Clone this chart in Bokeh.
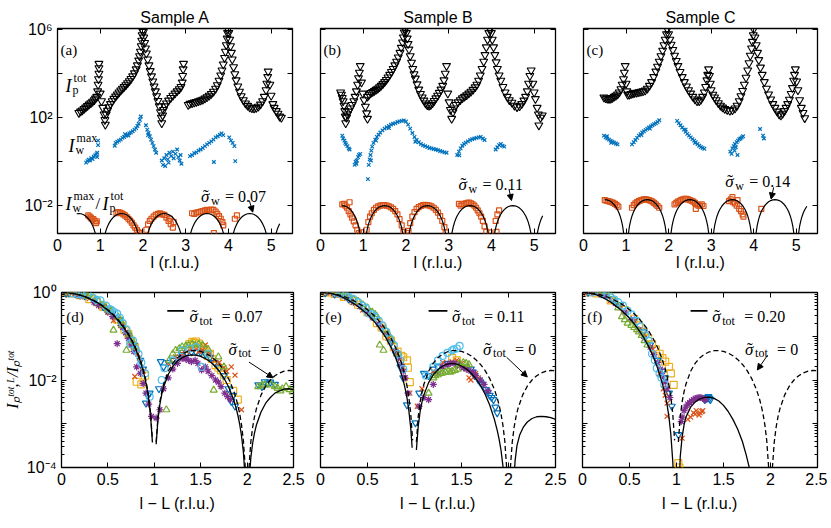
import math
from bokeh.plotting import figure
from bokeh.layouts import column, row
from bokeh.models import (Range1d, FixedTicker, CustomJSTickFormatter, LinearAxis,
                          LogAxis, Label, Arrow, NormalHead)
from bokeh.embed import file_html
from bokeh.resources import INLINE

SANS = "Liberation Sans"
SERIF = "Liberation Serif"

# ---------------- data ----------------
samples = ["Sample A", "Sample B", "Sample C"]
top_tags = ["(a)", "(b)", "(c)"]
bot_tags = ["(d)", "(e)", "(f)"]
sigma_w = ["0.07", "0.11", "0.14"]
sigma_tot = ["0.07", "0.11", "0.20"]
top_xlabel = "l (r.l.u.)"
bot_xlabel = "l \u2212 L (r.l.u.)"
bot_ylabel = "I\u209a\u1d57\u1d52\u1d57,\u1d38/I\u209a\u1d57\u1d52\u1d57"

top_xticks = [0, 1, 2, 3, 4, 5]
top_yticks = [1e-2, 1e0, 1e2, 1e4, 1e6]
top_ylabel_exps = [-2, 2, 6]
bot_xticks = [0, 0.5, 1, 1.5, 2, 2.5]
bot_yticks = [1e-4, 1e-3, 1e-2, 1e-1, 1e0]
bot_ylabel_exps = [-4, -2, 0]
bot_yminor = [m * 10.0 ** e for e in range(-4, 0) for m in range(2, 10)]

# (l, log10 I) for the I_p^tot series
a_ptot = [(0.50,2.22),(0.54,2.28),(0.58,2.33),(0.62,2.40),(0.66,2.46),(0.70,2.53),(0.74,2.60),(0.78,2.66),(0.82,2.73),(0.86,2.80),(0.89,2.87),(0.92,2.95),(0.94,3.20),(0.95,3.50),(0.96,3.75),(0.97,4.00),(0.97,4.25),(0.97,4.45),
          (1.00,3.10),(1.03,2.75),(1.06,2.45),(1.09,2.15),(1.11,1.90),(1.12,1.68),
          (1.14,2.15),(1.17,2.32),(1.20,2.48),(1.24,2.62),(1.28,2.75),(1.32,2.86),(1.36,2.96),(1.40,3.06),(1.44,3.15),(1.48,3.24),(1.52,3.32),(1.56,3.40),(1.60,3.48),(1.64,3.57),(1.68,3.66),(1.72,3.76),(1.76,3.88),(1.80,4.02),(1.84,4.20),(1.87,4.38),(1.90,4.60),(1.92,4.80),(1.94,5.00),(1.96,5.25),(1.97,5.50),(1.98,5.75),(1.99,5.95),
          (2.01,5.90),(2.02,5.65),(2.04,5.40),(2.06,5.15),(2.08,4.92),(2.11,4.65),(2.14,4.38),(2.17,4.12),(2.20,3.88),(2.23,3.65),(2.26,3.42),(2.29,3.20),(2.32,2.98),(2.35,2.76),(2.38,2.52),(2.41,2.25),(2.43,2.00),(2.44,1.75),
          (2.46,2.10),(2.48,2.35),(2.51,2.52),(2.55,2.65),(2.60,2.78),(2.65,2.90),(2.70,3.00),(2.75,3.10),(2.80,3.20),(2.85,3.30),(2.89,3.40),(2.92,3.60),(2.93,3.90),(2.94,4.20),(2.95,4.45),
          (3.06,2.58),(3.10,2.63),(3.15,2.66),(3.20,2.69),(3.25,2.72),(3.30,2.75),(3.35,2.78),(3.40,2.82),(3.45,2.87),(3.50,2.93),(3.55,3.00),(3.60,3.08),(3.65,3.18),(3.70,3.32),(3.74,3.48),(3.78,3.68),(3.82,3.92),(3.85,4.15),(3.88,4.42),(3.91,4.72),(3.93,5.00),(3.95,5.30),(3.97,5.60),(3.98,5.85),(3.99,6.02),
          (4.01,5.85),(4.03,5.55),(4.05,5.25),(4.07,4.95),(4.09,4.65),(4.12,4.30),(4.15,3.98),(4.18,3.70),(4.22,3.42),(4.26,3.18),(4.30,2.98),(4.35,2.80),(4.40,2.65),(4.45,2.54),(4.50,2.47),(4.55,2.43),(4.60,2.42),(4.65,2.44),(4.70,2.50),(4.75,2.60),(4.80,2.75),(4.84,2.95),(4.88,3.25),(4.90,3.55),(4.92,3.85),(4.93,4.10),
          (4.97,3.50),(5.00,3.00),(5.04,2.62),(5.07,2.45),(5.12,2.30),(5.16,2.18),(5.20,2.05),(5.24,2.00)]
b_ptot = [(0.47,3.15),(0.49,3.05),(0.51,2.90),(0.53,2.75),(0.55,2.55),(0.57,2.30),(0.58,2.05),(0.59,1.75),(0.61,2.00),(0.63,2.15),(0.66,2.28),(0.70,2.42),(0.74,2.58),(0.78,2.75),(0.81,2.95),(0.84,3.20),(0.87,3.50),(0.89,3.80),(0.91,4.05),(0.93,4.35),(0.96,3.60),(0.99,3.10),(1.02,2.80),(1.05,2.50),(1.08,2.20),(1.10,1.95),
          (1.10,2.95),(1.14,3.05),(1.18,3.12),(1.22,3.17),(1.26,3.22),(1.30,3.27),(1.34,3.32),(1.38,3.38),(1.42,3.45),(1.46,3.53),(1.50,3.62),(1.54,3.72),(1.58,3.83),(1.62,3.95),(1.66,4.08),(1.70,4.22),(1.74,4.38),(1.78,4.55),(1.82,4.74),(1.86,4.95),(1.89,5.18),(1.92,5.42),(1.94,5.65),(1.96,5.88),(1.98,6.02),
          (2.01,5.85),(2.03,5.60),(2.05,5.35),(2.07,5.10),(2.10,4.80),(2.13,4.50),(2.16,4.22),(2.19,3.98),(2.22,3.78),(2.26,3.52),(2.30,3.28),(2.34,3.08),(2.38,2.92),(2.42,2.78),(2.46,2.65),(2.50,2.57),(2.54,2.55),(2.58,2.58),(2.62,2.66),(2.66,2.76),(2.70,2.88),(2.74,3.00),(2.78,3.13),(2.82,3.28),(2.86,3.45),(2.89,3.70),(2.92,4.00),(2.95,4.35),
          (2.98,3.10),(3.01,2.70),(3.04,2.35),(3.07,1.95),
          (3.10,2.25),(3.13,2.42),(3.17,2.58),(3.22,2.70),(3.27,2.80),(3.32,2.88),(3.37,2.95),(3.42,3.02),(3.47,3.10),(3.52,3.18),(3.57,3.27),(3.62,3.38),(3.66,3.50),(3.70,3.68),(3.74,3.92),(3.78,4.22),(3.82,4.55),(3.85,4.85),(3.88,5.20),(3.91,5.55),(3.94,5.85),(3.97,6.02),
          (4.00,5.85),(4.02,5.55),(4.05,5.20),(4.08,4.85),(4.11,4.52),(4.14,4.22),(4.18,3.92),(4.22,3.68),(4.27,3.40),(4.32,3.15),(4.37,2.95),(4.42,2.80),(4.48,2.68),(4.54,2.55),(4.60,2.48),(4.66,2.52),(4.71,2.62),(4.76,2.78),(4.80,2.95),(4.84,3.20),(4.87,3.55),(4.90,3.90),(4.93,4.15),
          (4.97,3.55),(5.00,3.15),(5.03,2.85),(5.07,2.45),(5.10,2.15),(5.11,1.65),(5.15,2.00),(5.19,2.10)]
c_ptot = [(0.48,2.92),(0.52,2.88),(0.56,2.86),(0.60,2.85),(0.64,2.86),(0.68,2.90),(0.72,2.95),(0.76,3.00),(0.80,3.06),(0.84,3.15),(0.88,3.30),(0.91,3.50),(0.94,3.75),(0.96,4.05),(0.98,4.35),(1.00,3.55),(1.02,3.20),(1.04,3.05),
          (1.08,3.05),(1.12,3.08),(1.16,3.10),(1.20,3.12),(1.25,3.14),(1.30,3.16),(1.35,3.18),(1.40,3.20),(1.45,3.24),(1.50,3.32),(1.55,3.45),(1.60,3.62),(1.65,3.85),(1.70,4.10),(1.74,4.32),(1.78,4.55),(1.82,4.80),(1.86,5.05),(1.89,5.30),(1.92,5.55),(1.95,5.80),(1.97,6.02),
          (2.00,5.80),(2.03,5.55),(2.06,5.32),(2.10,5.08),(2.14,4.82),(2.18,4.58),(2.22,4.35),(2.27,4.08),(2.32,3.85),(2.37,3.62),(2.42,3.42),(2.47,3.25),(2.52,3.10),(2.57,2.95),(2.62,2.83),(2.67,2.75),(2.72,2.75),(2.76,2.82),(2.80,2.95),(2.84,3.15),(2.87,3.40),(2.90,3.70),(2.92,3.95),(2.94,4.20),(2.96,3.90),(2.98,3.55),(3.00,3.25),
          (3.04,3.05),(3.08,2.92),(3.12,2.80),(3.17,2.66),(3.22,2.55),(3.27,2.46),(3.32,2.40),(3.38,2.35),(3.44,2.32),(3.50,2.34),(3.56,2.42),(3.61,2.55),(3.66,2.75),(3.70,2.98),(3.74,3.22),(3.78,3.50),(3.82,3.82),(3.86,4.15),(3.89,4.48),(3.92,4.82),(3.95,5.15),(3.97,5.45),(3.99,5.75),(4.00,6.02),
          (4.03,5.65),(4.06,5.30),(4.09,4.95),(4.12,4.62),(4.16,4.28),(4.20,3.95),(4.25,3.62),(4.30,3.32),(4.35,3.06),(4.40,2.83),(4.45,2.62),(4.50,2.45),(4.55,2.28),(4.60,2.15),(4.64,2.10),(4.68,2.18),(4.72,2.30),(4.76,2.45),(4.80,2.62),(4.84,2.82),(4.88,3.08),(4.91,3.35),(4.94,3.68),(4.96,3.95),(4.98,4.20),
          (5.01,3.65),(5.04,3.25),(5.08,2.80),(5.12,2.45),(5.16,2.22),(5.20,1.98)]

# (l, log10 I) for the I_w^max series
a_wmax = [(0.67,-0.05),(0.70,0.02),(0.73,0.08),(0.76,0.05),(0.79,0.15),(0.82,0.12),(0.85,0.22),(0.88,0.28),(0.91,0.33),(0.93,0.40),(0.95,0.95),(0.95,0.75),(0.93,0.20),
          (1.34,0.72),(1.36,0.85),(1.40,0.90),(1.44,0.95),(1.48,1.00),(1.52,1.08),(1.56,1.12),(1.60,1.18),(1.64,1.22),(1.68,1.28),(1.72,1.32),(1.76,1.38),(1.80,1.45),(1.84,1.52),(1.87,1.62),(1.90,1.72),(1.93,1.90),(1.95,2.05),(1.58,1.25),(1.66,1.18),
          (2.07,1.65),(2.10,1.45),(2.13,1.30),(2.16,1.15),(2.19,1.00),(2.22,0.85),(2.25,0.70),(2.28,0.55),(2.31,0.40),(2.12,1.20),
          (2.44,0.05),(2.47,-0.15),(2.50,0.15),(2.55,0.30),(2.58,0.10),(2.62,0.40),(2.66,0.25),(2.70,0.45),(2.72,0.15),(2.76,0.35),(2.80,0.55),(2.83,0.20),(2.86,0.05),(2.88,0.30),(2.90,-0.10),(2.60,-0.05),(2.52,-0.20),
          (3.10,0.25),(3.15,0.30),(3.20,0.38),(3.25,0.42),(3.30,0.50),(3.35,0.55),(3.40,0.62),(3.45,0.70),(3.50,0.78),(3.55,0.85),(3.60,0.92),(3.65,1.00),(3.70,1.10),(3.75,1.15),(3.80,1.22),(3.84,1.28),(3.88,1.20),(3.66,-0.02),
          (4.02,1.10),(4.06,0.95),(4.10,0.85),(4.14,0.70),(4.16,0.02)]
b_wmax = [(0.51,1.18),(0.53,1.05),(0.56,0.95),(0.58,0.85),(0.60,0.78),(0.63,0.70),(0.66,0.60),(0.68,0.55),
          (0.80,-0.15),(0.82,0.00),(0.85,0.05),(0.88,0.20),(0.90,0.30),(0.93,0.35),(0.84,-0.10),
          (1.11,-0.80),(1.13,-0.15),(1.15,0.10),(1.17,0.30),(1.19,0.50),(1.21,0.68),(1.24,0.85),(1.28,1.00),(1.32,1.12),(1.36,1.22),(1.40,1.32),(1.45,1.42),(1.50,1.50),(1.55,1.56),(1.60,1.62),(1.65,1.68),(1.70,1.72),(1.75,1.75),(1.80,1.80),(1.85,1.83),(1.90,1.85),(1.95,1.87),
          (2.00,1.82),(2.05,1.68),(2.10,1.50),(2.15,1.30),(2.20,1.12),(2.25,0.98),(2.30,0.88),(2.35,0.80),(2.40,0.74),(2.45,0.70),(2.50,0.66),(2.55,0.62),(2.60,0.60),(2.65,0.57),(2.70,0.55),(2.75,0.52),(2.80,0.48),(2.85,0.45),(2.90,0.42),(2.95,0.40),
          (1.18,0.05),(1.30,0.95),(1.60,1.52),(2.22,0.90),
          (3.20,0.30),(3.24,0.45),(3.28,0.60),(3.32,0.72),(3.36,0.80),(3.40,0.86),(3.45,0.92),(3.50,0.98),(3.55,1.02),(3.60,1.05),(3.65,1.08),(3.70,1.10),(3.75,1.12),(3.80,1.05),(3.84,0.98),(3.25,0.28),
          (4.10,0.55),(4.14,0.65),(4.18,0.75),(4.22,0.80),(4.26,0.72),(4.30,0.68)]
c_wmax = [(0.48,1.18),(0.52,1.10),(0.56,1.05),(0.60,1.00),(0.64,0.95),(0.68,0.90),(0.72,0.86),(0.76,0.82),(0.80,0.78),(0.55,1.15),(0.65,0.85),
          (1.14,0.78),(1.18,0.88),(1.22,0.98),(1.26,1.08),(1.30,1.18),(1.34,1.25),(1.38,1.32),(1.42,1.38),(1.46,1.44),(1.50,1.50),(1.54,1.55),(1.58,1.60),(1.62,1.65),(1.66,1.70),(1.70,1.74),(1.74,1.80),(1.78,1.88),(1.36,1.20),(1.56,1.50),
          (2.20,1.85),(2.24,1.75),(2.28,1.65),(2.32,1.55),(2.36,1.45),(2.40,1.35),(2.44,1.26),(2.48,1.18),(2.52,1.10),(2.56,1.02),(2.60,0.95),(2.64,0.88),(2.68,0.80),(2.72,0.72),(2.76,0.66),(2.80,0.62),(2.84,0.58),(2.40,1.45),(2.62,0.85),
          (3.45,0.45),(3.48,0.35),(3.50,0.60),(3.53,0.70),(3.56,0.80),(3.58,0.65),(3.60,0.88),(3.63,0.95),(3.66,1.02),(3.69,1.05),(3.72,1.10),(3.75,1.15),(3.62,0.30),(3.55,0.50),
          (4.15,1.48),(4.22,1.18),(4.24,1.05)]

# (l, log10 ratio) for I_w^max / I_p^tot
a_ratio = [(0.72,-2.45),(0.75,-2.50),(0.78,-2.55),(0.80,-2.60),(0.84,-2.62),(0.87,-2.70),(0.90,-2.80),(0.92,-2.72),
           (1.38,-2.35),(1.42,-2.30),(1.46,-2.32),(1.50,-2.35),(1.54,-2.40),(1.58,-2.45),(1.62,-2.52),(1.66,-2.60),(1.70,-2.68),(1.74,-2.78),(1.78,-2.90),(1.82,-3.00),(1.86,-3.12),(1.90,-3.22),(1.93,-3.25),
           (2.08,-3.10),(2.12,-2.85),(2.16,-2.70),(2.20,-2.60),(2.25,-2.50),(2.30,-2.42),(2.35,-2.38),(2.40,-2.35),(2.45,-2.40),(2.50,-2.42),(2.55,-2.55),(2.60,-2.70),(2.65,-2.85),(2.70,-3.00),(2.63,-2.60),(2.72,-2.75),
           (3.15,-2.35),(3.20,-2.38),(3.25,-2.32),(3.30,-2.30),(3.35,-2.28),(3.40,-2.25),(3.45,-2.22),(3.50,-2.20),(3.55,-2.22),(3.60,-2.18),(3.65,-2.20),(3.70,-2.28),(3.74,-2.38),(3.78,-2.48),(3.82,-2.60),(3.86,-2.75),(3.88,-2.90),(3.66,-3.25),
           (4.15,-2.60),(4.20,-2.45)]
b_ratio = [(0.51,-1.95),(0.55,-1.92),(0.58,-2.00),(0.62,-2.10),(0.66,-2.25),(0.70,-2.40),(0.74,-2.55),(0.78,-2.72),(0.82,-2.90),(0.86,-3.10),(0.90,-3.25),(0.68,-1.85),(0.95,-3.22),
           (1.08,-3.10),(1.12,-2.75),(1.16,-2.50),(1.20,-2.35),(1.25,-2.20),(1.30,-2.10),(1.35,-2.04),(1.40,-2.00),(1.45,-1.98),(1.50,-1.98),(1.55,-2.00),(1.60,-2.03),(1.65,-2.08),(1.70,-2.15),(1.75,-2.25),(1.80,-2.40),(1.85,-2.62),(1.90,-2.90),(1.94,-3.20),
           (2.02,-3.24),(2.06,-3.15),(2.10,-2.80),(2.15,-2.50),(2.20,-2.30),(2.25,-2.15),(2.30,-2.07),(2.35,-2.02),(2.40,-1.98),(2.45,-1.97),(2.50,-1.98),(2.55,-2.00),(2.60,-2.04),(2.65,-2.10),(2.70,-2.20),(2.75,-2.32),(2.80,-2.48),(2.85,-2.70),(2.90,-2.98),(2.93,-3.22),
           (3.24,-1.92),(3.28,-2.00),(3.32,-1.95),(3.36,-1.92),(3.40,-1.90),(3.44,-1.88),(3.48,-1.86),(3.52,-1.90),(3.56,-1.94),(3.60,-2.00),(3.64,-2.10),(3.68,-2.22),(3.72,-2.35),(3.76,-2.50),(3.80,-2.70),(3.84,-2.95),(3.88,-3.20),(3.96,-3.22),
           (4.10,-2.70),(4.12,-3.20),(4.14,-2.40),(4.18,-2.22)]
c_ratio = [(0.50,-1.75),(0.54,-1.78),(0.58,-1.80),(0.62,-1.82),(0.66,-1.85),(0.70,-1.88),(0.74,-1.92),(0.78,-1.98),(0.82,-2.05),
           (1.14,-2.10),(1.18,-1.98),(1.22,-1.90),(1.26,-1.84),(1.30,-1.80),(1.34,-1.76),(1.38,-1.74),(1.42,-1.72),(1.46,-1.72),(1.50,-1.73),(1.54,-1.75),(1.58,-1.78),(1.62,-1.82),(1.66,-1.88),(1.70,-1.95),(1.74,-2.02),(1.78,-2.10),
           (2.14,-1.95),(2.18,-1.88),(2.22,-1.82),(2.26,-1.78),(2.30,-1.74),(2.34,-1.72),(2.38,-1.70),(2.42,-1.70),(2.46,-1.72),(2.50,-1.75),(2.54,-1.78),(2.58,-1.82),(2.62,-1.88),(2.66,-1.95),(2.70,-2.00),(2.74,-2.00),(2.78,-1.95),(2.82,-2.02),(2.64,-2.15),
           (3.42,-1.80),(3.46,-1.72),(3.50,-1.62),(3.52,-1.85),(3.56,-1.90),(3.60,-2.00),(3.62,-1.75),(3.66,-2.15),(3.70,-2.25),(3.74,-2.40),(3.76,-2.50),
           (4.18,-2.15)]

# model arches of the top panels: offset from arch centre, log10 drop from the peak
arch_offset = [-0.48,-0.45,-0.42,-0.39,-0.36,-0.33,-0.30,-0.25,-0.20,-0.15,-0.10,-0.05,0.0,0.05,0.10,0.15,0.20,0.25,0.30,0.33,0.36,0.39,0.42,0.45,0.48]
arch_drop = [-2.404,-1.611,-1.209,-0.940,-0.742,-0.587,-0.462,-0.301,-0.184,-0.100,-0.044,-0.011,0.0,-0.011,-0.044,-0.100,-0.184,-0.301,-0.462,-0.587,-0.742,-0.940,-1.209,-1.611,-2.404]
arch_centers = [0.5, 1.5, 2.5, 3.5, 4.5, 5.5]
arch_peak = [-2.36, -2.00, -1.73]
arch_span = [(0.44, 5.21), (0.49, 5.21), (0.46, 5.25)]

# bottom panels: (l-L, log10 ratio); None breaks the line
dashed_sigma0 = [(0.00,0.000),(0.05,-0.004),(0.10,-0.014),(0.15,-0.032),(0.20,-0.058),(0.25,-0.091),(0.30,-0.133),(0.35,-0.183),(0.40,-0.242),(0.45,-0.312),(0.50,-0.393),(0.55,-0.486),(0.60,-0.594),(0.65,-0.720),(0.70,-0.869),(0.75,-1.046),(0.80,-1.262),(0.85,-1.539),(0.88,-1.751),(0.90,-1.923),(0.92,-2.131),(0.94,-2.395),(0.96,-2.763),(0.98,-3.381),None,
                 (1.02,-3.416),(1.04,-2.832),(1.06,-2.499),(1.08,-2.270),(1.10,-2.097),(1.15,-1.801),(1.20,-1.614),(1.25,-1.489),(1.30,-1.407),(1.35,-1.355),(1.40,-1.330),(1.45,-1.328),(1.50,-1.347),(1.55,-1.386),(1.60,-1.446),(1.65,-1.529),(1.70,-1.639),(1.75,-1.781),(1.80,-1.967),(1.85,-2.215),(1.88,-2.411),(1.90,-2.572),(1.92,-2.770),(1.94,-3.024),(1.96,-3.383),(1.98,-3.990),None,
                 (2.02,-4.010),(2.04,-3.418),(2.06,-3.076),(2.08,-2.839),(2.10,-2.659),(2.15,-2.345),(2.20,-2.141),(2.25,-2.000),(2.30,-1.902),(2.35,-1.837),(2.40,-1.798),(2.45,-1.783),(2.50,-1.790)]
d_solid = [(0.00,0.000),(0.05,-0.004),(0.10,-0.015),(0.15,-0.034),(0.20,-0.061),(0.25,-0.096),(0.30,-0.140),(0.35,-0.190),(0.40,-0.250),(0.45,-0.325),(0.50,-0.410),(0.55,-0.505),(0.60,-0.615),(0.65,-0.745),(0.70,-0.895),(0.75,-1.075),(0.80,-1.295),(0.85,-1.575),(0.88,-1.790),(0.90,-1.965),(0.92,-2.175),(0.94,-2.445),(0.96,-2.830),(0.98,-3.430),None,
           (1.02,-3.470),(1.04,-2.890),(1.06,-2.555),(1.08,-2.330),(1.10,-2.160),(1.15,-1.875),(1.20,-1.685),(1.25,-1.565),(1.30,-1.490),(1.35,-1.445),(1.40,-1.425),(1.45,-1.430),(1.50,-1.460),(1.55,-1.510),(1.60,-1.580),(1.65,-1.675),(1.70,-1.800),(1.75,-1.955),(1.80,-2.155),(1.85,-2.420),(1.88,-2.630),(1.90,-2.800),(1.92,-3.010),(1.94,-3.280),(1.96,-3.650),(1.98,-4.270),None,
           (2.02,-4.350),(2.04,-3.780),(2.06,-3.440),(2.08,-3.210),(2.10,-3.030),(2.15,-2.730),(2.20,-2.530),(2.25,-2.400),(2.30,-2.300),(2.35,-2.250),(2.40,-2.210),(2.45,-2.200),(2.50,-2.220)]
e_solid = [(0.00,0.000),(0.05,-0.005),(0.10,-0.020),(0.15,-0.045),(0.20,-0.080),(0.25,-0.125),(0.30,-0.180),(0.35,-0.245),(0.40,-0.320),(0.45,-0.405),(0.50,-0.500),(0.55,-0.610),(0.60,-0.735),(0.65,-0.880),(0.70,-1.050),(0.75,-1.250),(0.80,-1.490),(0.85,-1.790),(0.88,-2.010),(0.90,-2.190),(0.92,-2.410),(0.94,-2.700),(0.96,-3.100),(0.975,-3.550),None,
           (1.02,-3.600),(1.04,-3.050),(1.06,-2.720),(1.08,-2.500),(1.10,-2.340),(1.15,-2.060),(1.20,-1.880),(1.25,-1.760),(1.30,-1.680),(1.35,-1.635),(1.40,-1.620),(1.45,-1.635),(1.50,-1.680),(1.55,-1.745),(1.60,-1.840),(1.65,-1.960),(1.70,-2.120),(1.75,-2.320),(1.80,-2.570),(1.85,-2.900),(1.88,-3.150),(1.90,-3.350),(1.92,-3.600),(1.94,-3.950),(1.95,-4.200),None,
           (2.06,-4.200),(2.07,-3.850),(2.09,-3.500),(2.12,-3.250),(2.16,-3.070),(2.20,-2.960),(2.25,-2.880),(2.30,-2.840),(2.35,-2.830),(2.40,-2.840),(2.45,-2.860),(2.50,-2.900)]
f_solid = [(0.00,0.000),(0.05,-0.006),(0.10,-0.025),(0.15,-0.055),(0.20,-0.100),(0.25,-0.155),(0.30,-0.220),(0.35,-0.300),(0.40,-0.385),(0.45,-0.480),(0.50,-0.590),(0.55,-0.715),(0.60,-0.860),(0.65,-1.025),(0.70,-1.220),(0.75,-1.450),(0.80,-1.730),(0.85,-2.080),(0.88,-2.350),(0.90,-2.570),(0.92,-2.850),(0.94,-3.250),(0.96,-3.850),(0.97,-4.300),None,
           (1.03,-4.300),(1.04,-3.750),(1.06,-3.300),(1.08,-3.030),(1.10,-2.850),(1.15,-2.620),(1.20,-2.500),(1.25,-2.430),(1.30,-2.395),(1.35,-2.390),(1.40,-2.420),(1.45,-2.480),(1.50,-2.580),(1.55,-2.720),(1.60,-2.900),(1.65,-3.120),(1.70,-3.400),(1.74,-3.700),(1.78,-4.050),(1.80,-4.300)]

# measured points of the bottom panels, one list per series
d_yellow = [(0.00,0.00),(0.03,0.01),(0.06,-0.01),(0.10,-0.02),(0.20,-0.06),(0.30,-0.15),(0.38,-0.22),(0.45,-0.33),(0.52,-0.42),(0.60,-0.62),(0.65,-0.72),(0.68,-0.85),(0.72,-0.95),(0.75,-1.10),(0.79,-1.25),(0.81,-2.04),(0.86,-2.10),(0.90,-1.90),
            (1.38,-1.18),(1.41,-1.13),(1.43,-1.15),(1.45,-1.12),(1.48,-1.17),(1.51,-1.25),(1.53,-1.28),(1.55,-1.35),(1.58,-1.45),(1.60,-1.40),(1.62,-1.52),(1.66,-1.66),(1.69,-1.72),(1.72,-1.78),(1.75,-1.88),(1.78,-2.00),(1.85,-2.25),(1.90,-2.45)]
d_blue = [(0.05,-0.02),(0.08,-0.01),(0.15,-0.03),(0.25,-0.08),(0.35,-0.20),(0.45,-0.33),(0.55,-0.48),(0.62,-0.62),(0.72,-0.98),(0.78,-1.20),(0.85,-1.55),(0.88,-1.75),(0.91,-2.53),(0.93,-2.35),(0.95,-2.30),
          (1.05,-2.20),(1.07,-1.58),(1.10,-1.70),(1.15,-1.60),(1.20,-1.55),(1.25,-1.48),(1.30,-1.42),(1.35,-1.38),(1.40,-1.36),(1.45,-1.36),(1.50,-1.37),(1.55,-1.40),(1.60,-1.48),(1.65,-1.60),(1.70,-1.72),(1.75,-1.90),(1.80,-2.20),(1.83,-2.49),(1.85,-2.35),(1.87,-2.60),
          (2.12,-2.11),(2.16,-2.15),(2.19,-2.04),(2.22,-2.07),(2.25,-2.05),(2.30,-2.10)]
d_red = [(0.04,-0.01),(0.10,-0.02),(0.15,-0.04),(0.25,-0.10),(0.30,-0.14),(0.40,-0.26),(0.45,-0.33),(0.50,-0.42),(0.56,-0.64),(0.60,-0.58),(0.65,-0.76),(0.72,-0.95),(0.76,-1.15),(0.79,-1.92),(0.82,-1.40),(0.84,-1.50),(0.88,-1.80),
         (1.15,-1.62),(1.23,-1.47),(1.30,-1.40),(1.35,-1.35),(1.40,-1.30),(1.45,-1.30),(1.48,-1.35),(1.52,-1.32),(1.55,-1.20),(1.60,-1.40),(1.65,-1.55),(1.70,-1.60),(1.75,-1.72),(1.78,-1.80),(1.83,-1.70),(1.87,-1.89),(1.94,-2.68)]
d_purple = [(0.20,-0.08),(0.35,-0.22),(0.40,-0.30),(0.50,-0.45),(0.55,-0.55),(0.60,-1.17),(0.64,-0.75),(0.66,-0.80),(0.69,-0.92),(0.72,-1.05),(0.75,-1.20),(0.78,-1.35),(0.81,-1.70),(0.85,-1.85),(0.88,-2.08),(0.91,-2.30),(0.94,-2.55),(0.97,-2.83),
            (1.02,-2.87),(1.06,-2.68),(1.10,-2.20),(1.15,-1.95),(1.20,-1.75),(1.25,-1.62),(1.30,-1.51),(1.34,-1.52),(1.37,-1.55),(1.40,-1.58),(1.44,-1.55),(1.47,-1.62),(1.51,-1.77),(1.55,-1.70),(1.58,-1.80),(1.62,-1.90),(1.66,-2.00),(1.69,-2.05),(1.72,-2.15),(1.76,-2.30),(1.79,-2.38),(1.82,-2.45)]
d_green = [(0.08,0.02),(0.13,0.03),(0.16,0.02),(0.21,0.00),(0.25,-0.05),(0.28,-0.08),(0.34,-0.12),(0.40,-0.20),(0.45,-0.28),(0.50,-0.40),(0.53,-0.42),(0.56,-0.86),(0.61,-0.56),(0.64,-0.65),(0.66,-0.75),(0.70,-1.32),(0.73,-0.95),(0.76,-1.10),(0.80,-1.25),
           (1.13,-2.68),(1.16,-1.55),(1.20,-1.40),(1.23,-1.32),(1.27,-1.28),(1.30,-1.24),(1.34,-1.22),(1.37,-1.20),(1.41,-1.18),(1.44,-1.20),(1.48,-1.18),(1.52,-1.20),(1.58,-1.30),(1.64,-2.23),(1.69,-1.47),(1.75,-1.70),
           (2.12,-2.15),(2.16,-2.12),(2.19,-2.11),(2.26,-2.11),(2.30,-2.15),(2.33,-2.19),(2.36,-2.25),(2.38,-2.20),(2.42,-2.15),(2.46,-2.22),(2.49,-2.27)]
d_cyan = [(0.12,-0.02),(0.18,-0.04),(0.22,-0.05),(0.28,-0.03),(0.34,-0.12),(0.38,-0.17),(0.42,-0.18),(0.48,-0.30),(0.52,-0.38),(0.54,-0.40),(0.57,-0.45),(0.60,-0.48),(0.63,-0.58),(0.66,-0.70),(0.70,-0.85),(0.74,-1.17),(0.77,-1.10),(0.80,-1.30),(0.83,-1.40),(0.86,-1.60),(0.90,-1.85),(0.95,-2.38),
          (1.08,-2.00),(1.11,-1.73),(1.20,-1.55),(1.30,-1.32),(1.38,-1.28),(1.45,-1.25),(1.51,-1.70),(1.58,-1.40)]

e_yellow = [(0.02,0.00),(0.06,0.01),(0.10,0.00),(0.15,-0.03),(0.25,-0.10),(0.35,-0.20),(0.40,-0.28),(0.50,-0.45),(0.60,-0.70),(0.65,-0.80),(0.70,-1.00),(0.75,-1.10),(0.78,-1.25),(0.82,-1.35),(0.86,-1.45),(0.88,-1.48),(0.92,-1.55),(0.93,-1.72),(0.95,-2.05),(1.40,-1.50),(1.45,-1.55)]
e_blue = [(0.05,-0.01),(0.15,-0.04),(0.30,-0.15),(0.45,-0.36),(0.55,-0.55),(0.65,-0.82),(0.75,-1.15),(0.80,-1.40),(0.85,-1.70),(0.88,-1.95),(0.92,-2.57),(1.01,-2.98),(1.05,-2.30),
          (1.10,-1.85),(1.15,-1.90),(1.20,-1.75),(1.25,-1.70),(1.35,-1.62),(1.45,-1.62),(1.55,-1.70),(1.60,-1.75),(1.62,-1.82),(1.64,-1.90),(1.68,-2.00),(1.70,-2.05),(1.72,-2.10),(1.76,-2.22),(1.78,-2.28),(1.80,-2.35),(1.82,-2.40),(1.84,-2.45),(1.86,-2.62),(1.88,-2.75)]
e_red = [(0.00,0.00),(0.04,0.02),(0.10,0.00),(0.15,-0.03),(0.25,-0.10),(0.35,-0.22),(0.45,-0.40),(0.55,-0.58),(0.65,-0.80),(0.72,-1.05),(0.80,-1.40),(0.85,-1.65),(0.90,-1.95),(0.95,-2.30),(1.03,-2.60),(1.08,-2.20),
         (1.20,-1.80),(1.30,-1.60),(1.40,-1.58),(1.45,-1.55),(1.50,-1.62),(1.55,-1.72),(1.58,-1.95),(1.60,-2.00),(1.65,-1.85),(1.68,-1.95)]
e_purple = [(0.08,0.02),(0.14,-0.02),(0.20,-0.05),(0.28,-0.12),(0.35,-0.22),(0.42,-0.32),(0.50,-0.45),(0.55,-0.55),(0.62,-0.72),(0.70,-0.95),(0.75,-1.12),(0.80,-1.35),(0.83,-1.50),(0.86,-1.65),(0.88,-1.80),(0.90,-1.95),(0.93,-2.30),
            (1.05,-2.60),(1.10,-2.40),(1.15,-2.45),(1.20,-2.10),(1.25,-1.85),(1.30,-1.70),(1.35,-1.65),(1.38,-1.62),(1.42,-1.62),(1.45,-1.65),(1.48,-1.68),(1.52,-1.72),(1.55,-1.75),(1.58,-1.78),(1.62,-1.82),(1.65,-1.90),(1.70,-2.00),(1.74,-2.10),(1.78,-2.25)]
e_green = [(0.10,0.03),(0.14,0.04),(0.18,0.02),(0.22,0.00),(0.26,-0.05),(0.30,-0.10),(0.35,-0.15),(0.40,-0.20),(0.45,-0.28),(0.50,-0.35),(0.55,-0.45),(0.58,-0.50),(0.60,-0.55),(0.63,-1.20),(0.67,-1.32),(0.69,-0.85),(0.72,-0.95),(0.76,-1.10),(0.83,-1.40),
           (1.15,-2.30),(1.20,-1.95),(1.22,-1.90),(1.25,-1.88),(1.28,-1.85),(1.30,-1.84),(1.33,-1.82),(1.36,-1.80),(1.38,-1.82),(1.40,-1.80),(1.43,-1.78),(1.46,-1.75),(1.48,-1.62),(1.52,-1.60),(1.55,-1.62),(1.58,-1.65)]
e_cyan = [(0.16,0.00),(0.21,-0.03),(0.26,-0.06),(0.30,-0.10),(0.35,-0.15),(0.40,-0.22),(0.45,-0.30),(0.48,-0.35),(0.51,-0.48),(0.55,-0.50),(0.58,-0.55),(0.62,-0.65),(0.66,-0.75),(0.70,-0.90),(0.74,-1.05),(0.78,-1.20),(0.82,-1.40),(0.85,-1.55),(0.88,-1.75),
          (1.12,-1.90),(1.20,-1.70),(1.25,-1.55),(1.30,-1.45),(1.35,-1.38),(1.40,-1.32),(1.42,-1.30),(1.45,-1.28),(1.48,-1.22)]

f_yellow = [(0.03,0.00),(0.08,0.01),(0.15,-0.02),(0.30,-0.18),(0.45,-0.40),(0.55,-0.60),(0.60,-0.75),(0.65,-0.90),(0.70,-1.05),(0.74,-1.18),(0.78,-1.30),(0.82,-1.40),(0.85,-1.50),(0.88,-1.58),(0.92,-1.70),(0.94,-1.85),(0.97,-2.11),(1.02,-3.90),(1.03,-4.00)]
f_blue = [(0.06,0.00),(0.20,-0.03),(0.40,-0.28),(0.55,-0.62),(0.65,-0.90),(0.72,-1.20),(0.80,-1.55),(0.85,-1.80),(0.88,-1.95),(0.92,-2.30),(0.95,-2.60),(1.02,-3.25),(1.30,-2.45),(1.32,-2.42),(1.33,-2.40),(1.34,-2.38),(1.35,-2.42),(1.36,-2.45)]
f_red = [(0.00,-0.02),(0.02,0.02),(0.07,0.01),(0.12,0.00),(0.20,-0.06),(0.30,-0.18),(0.40,-0.30),(0.55,-0.65),(0.65,-0.95),(0.75,-1.30),(0.82,-1.85),(0.86,-2.20),(0.88,-2.35),(0.90,-2.53),(0.90,-2.83),(1.06,-3.33),
         (1.12,-2.90),(1.15,-2.85),(1.18,-2.75),(1.20,-2.78),(1.21,-2.70),(1.24,-2.80),(1.25,-2.75),(1.27,-2.72),(1.28,-2.70)]
f_purple = [(0.10,0.02),(0.18,-0.02),(0.25,-0.08),(0.35,-0.25),(0.45,-0.45),(0.52,-0.62),(0.60,-0.85),(0.66,-1.05),(0.72,-1.25),(0.76,-1.42),(0.80,-1.60),(0.83,-1.75),(0.85,-1.90),(0.88,-2.05),(0.90,-2.20),(0.93,-2.40),
            (1.05,-2.95),(1.06,-2.85),(1.08,-2.70),(1.10,-2.62),(1.12,-2.55),(1.14,-2.52),(1.16,-2.48),(1.18,-2.45),(1.20,-2.42),(1.22,-2.41),(1.24,-2.40),(1.26,-2.40),(1.28,-2.42),(1.30,-2.44),(1.31,-2.45)]
f_green = [(0.12,0.03),(0.18,0.04),(0.22,0.03),(0.25,0.02),(0.30,-0.05),(0.35,-0.20),(0.38,-0.35),(0.42,-0.55),(0.45,-0.62),(0.48,-0.70),(0.52,-0.75),(0.55,-0.80),(0.58,-0.85),(0.60,-0.90),(0.63,-0.98),(0.66,-1.10),(0.69,-1.20)]
f_cyan = [(0.10,0.00),(0.20,-0.02),(0.25,-0.07),(0.30,-0.12),(0.34,-0.16),(0.38,-0.22),(0.43,-0.30),(0.48,-0.42),(0.52,-0.50),(0.58,-0.65),(0.62,-0.78),(0.67,-0.98),(0.70,-1.10),(0.74,-1.40),(0.77,-1.55),(0.79,-1.73),(0.82,-1.85),(0.84,-1.95),(0.87,-2.10)]

# ---------------- styles ----------------
BLACK = "black"
BLUE = "#0072BD"
ORANGE = "#D95319"
YELLOW = "#EDB120"
PURPLE = "#7E2F8E"
GREEN = "#77AC30"
CYAN = "#4DBEEE"
series_style = [(YELLOW, "square"), (BLUE, "inverted_triangle"), (ORANGE, "x"),
                (PURPLE, "asterisk"), (GREEN, "triangle"), (CYAN, "circle")]

YLAB_CODE = r"""
const e = Math.round(Math.log10(tick));
if (show.indexOf(e) < 0) { return ""; }
const m = {"-": "\u207b", "0": "\u2070", "1": "\u00b9", "2": "\u00b2", "3": "\u00b3",
           "4": "\u2074", "5": "\u2075", "6": "\u2076", "7": "\u2077", "8": "\u2078", "9": "\u2079"};
let s = "";
for (const c of String(e)) { s += m[c]; }
return "10" + s;
"""
BLANK = 'return "";'


def to_xy(pts):
    xs, ys = [], []
    for p in pts:
        if p is None:
            xs.append(math.nan)
            ys.append(math.nan)
        else:
            xs.append(p[0])
            ys.append(10.0 ** p[1])
    return xs, ys


def style_axis(ax, labels=True, standoff=6):
    ax.axis_line_color = None
    ax.major_tick_in = 5
    ax.major_tick_out = 0
    ax.minor_tick_in = 3
    ax.minor_tick_out = 0
    ax.major_tick_line_color = BLACK
    ax.minor_tick_line_color = BLACK
    ax.major_label_text_font = SANS
    ax.major_label_text_color = BLACK
    if labels:
        ax.major_label_text_font_size = "16px"
        ax.major_label_standoff = standoff
    else:
        ax.major_label_text_font_size = "2px"
        ax.major_label_standoff = 0


def make_panel(width, height, bl, br, bt, bb, xr, yr, xticks, yticks, yminor, show,
               title, xlabel, xlabel_standoff, ylabel=None):
    p = figure(width=width, height=height, x_range=Range1d(*xr), y_range=Range1d(*yr),
               y_axis_type="log", output_backend="svg", toolbar_location=None,
               min_border_left=bl, min_border_right=br, min_border_top=bt, min_border_bottom=bb,
               background_fill_color="white", border_fill_color="white")
    p.xgrid.visible = False
    p.ygrid.visible = False
    p.outline_line_color = BLACK
    p.outline_line_width = 1.3
    if title:
        p.title.text = title
        p.title.align = "center"
        p.title.text_font = SANS
        p.title.text_font_size = "16px"
        p.title.text_font_style = "normal"
        p.title.text_color = BLACK
        p.title.standoff = 6
    xa = p.xaxis[0]
    xa.ticker = FixedTicker(ticks=xticks, minor_ticks=[])
    xa.formatter = CustomJSTickFormatter(code="return String(tick);")
    style_axis(xa, True, 5)
    xa.axis_label = xlabel
    xa.axis_label_text_font = SANS
    xa.axis_label_text_font_size = "16px"
    xa.axis_label_text_font_style = "normal"
    xa.axis_label_text_color = BLACK
    xa.axis_label_standoff = xlabel_standoff
    ya = p.yaxis[0]
    ya.ticker = FixedTicker(ticks=yticks, minor_ticks=yminor)
    if show:
        ya.formatter = CustomJSTickFormatter(args=dict(show=show), code=YLAB_CODE)
        style_axis(ya, True, 5)
    else:
        ya.formatter = CustomJSTickFormatter(code=BLANK)
        style_axis(ya, False)
    if ylabel:
        ya.axis_label = ylabel
        ya.axis_label_text_font = SERIF
        ya.axis_label_text_font_size = "16px"
        ya.axis_label_text_font_style = "italic"
        ya.axis_label_text_color = BLACK
        ya.axis_label_standoff = 3
    top = LinearAxis(ticker=FixedTicker(ticks=xticks, minor_ticks=[]),
                     formatter=CustomJSTickFormatter(code=BLANK))
    style_axis(top, False)
    p.add_layout(top, "above")
    right = LogAxis(ticker=FixedTicker(ticks=yticks, minor_ticks=yminor),
                    formatter=CustomJSTickFormatter(code=BLANK))
    style_axis(right, False)
    p.add_layout(right, "right")
    return p


def put(p, x, y, pieces):
    for (txt, size, font, fstyle, dx, dy) in pieces:
        p.add_layout(Label(x=x, y=y, text=txt, text_font=font, text_font_size=f"{size}px",
                           text_font_style=fstyle, text_color=BLACK, x_offset=dx, y_offset=dy,
                           text_align="left", text_baseline="alphabetic"))


def sigma(sub, rest, gap):
    return [("\u03c3", 17, SERIF, "italic", 0, 0), ("\u02dc", 17, SERIF, "normal", 2, 1),
            (sub, 12, SERIF, "normal", 10, -4), (rest, 16, SERIF, "normal", gap, 0)]


def arrow(p, x0, y0, x1, y1):
    p.add_layout(Arrow(x_start=x0, y_start=10 ** y0, x_end=x1, y_end=10 ** y1,
                       line_color=BLACK, line_width=1,
                       end=NormalHead(size=6, fill_color=BLACK, line_color=BLACK, line_width=1)))


# ---------------- top row ----------------
TOP_YR = (10 ** -3.27, 10 ** 6.05)
top_geom = [(296, 57, 4), (263, 24, 4), (268, 24, 10)]
ptot_sets = [a_ptot, b_ptot, c_ptot]
wmax_sets = [a_wmax, b_wmax, c_wmax]
ratio_sets = [a_ratio, b_ratio, c_ratio]
top_sigma_pos = [(3.36, -1.59), (3.23, -1.05), (3.33, -0.91)]
top_arrows = [(4.49, -1.77, 4.57, -2.30), (4.41, -1.24, 4.47, -1.77), (4.47, -1.17, 4.41, -1.70)]

tops = []
for i in range(3):
    w, bl, br = top_geom[i]
    p = make_panel(w, 275, bl, br, 28, 42, (0, 5.5), TOP_YR, top_xticks, top_yticks, [],
                   top_ylabel_exps if i == 0 else [], samples[i], top_xlabel, 0)
    xs, ys = to_xy(ptot_sets[i])
    p.scatter(xs, ys, marker="inverted_triangle", size=8, line_color=BLACK, fill_color=None, line_width=1.1)
    xs, ys = to_xy(wmax_sets[i])
    p.scatter(xs, ys, marker="x", size=5, line_color=BLUE, line_width=1.2)
    xs, ys = to_xy(ratio_sets[i])
    p.scatter(xs, ys, marker="square", size=5, line_color=ORANGE, fill_color=None, line_width=1.2)
    lo, hi = arch_span[i]
    arch_pts = []
    for c in arch_centers:
        seg = [(c + o, arch_peak[i] + d) for o, d in zip(arch_offset, arch_drop) if lo <= c + o <= hi]
        if seg:
            arch_pts += seg + [None]
    xs, ys = to_xy(arch_pts)
    p.line(xs, ys, line_color=BLACK, line_width=1.2)

    put(p, 0.07, 10 ** 5.09, [(top_tags[i], 15, SERIF, "normal", 0, 0)])
    sx, sy = top_sigma_pos[i]
    put(p, sx, 10 ** sy, sigma("w", "= " + sigma_w[i], 24))
    arrow(p, *top_arrows[i])
    if i == 0:
        put(p, 0.19, 10 ** 3.45, [("I", 18, SERIF, "italic", 0, 0), ("tot", 12, SERIF, "normal", 8, 8),
                                  ("p", 12, SERIF, "normal", 7, -4)])
        put(p, 0.26, 10 ** 0.73, [("I", 18, SERIF, "italic", 0, 0), ("max", 12, SERIF, "normal", 8, 8),
                                  ("w", 12, SERIF, "normal", 7, -4)])
        put(p, 0.19, 10 ** -1.91, [("I", 18, SERIF, "italic", 0, 0), ("max", 12, SERIF, "normal", 8, 8),
                                   ("w", 12, SERIF, "normal", 7, -4), ("/", 17, SERIF, "normal", 30, 0),
                                   ("I", 18, SERIF, "italic", 37, 0), ("tot", 12, SERIF, "normal", 45, 8),
                                   ("p", 12, SERIF, "normal", 44, -4)])
    tops.append(p)

# ---------------- bottom row ----------------
BOT_YR = (1e-4, 1.0)
bot_geom = [(305, 57, 12), (262, 15, 12), (260, 15, 10)]
bot_series = [[d_yellow, d_blue, d_red, d_purple, d_green, d_cyan],
              [e_yellow, e_blue, e_red, e_purple, e_green, e_cyan],
              [f_yellow, f_blue, f_red, f_purple, f_green, f_cyan]]
solid_sets = [d_solid, e_solid, f_solid]
legend_line_x = [(1.14, 1.32), (1.15, 1.35), (1.15, 1.33)]
legend_text_x = [1.38, 1.40, 1.38]
sig0_pos = [(1.80, -1.30), (1.73, -1.30), (1.73, -1.30)]
bot_arrows = [(2.02, -1.59, 2.28, -1.95), (1.98, -1.48, 2.20, -1.93), (1.97, -1.43, 1.86, -1.77)]

bots = []
for i in range(3):
    w, bl, br = bot_geom[i]
    p = make_panel(w, 242, bl, br, 17, 50, (0, 2.5), BOT_YR, bot_xticks, bot_yticks, bot_yminor,
                   bot_ylabel_exps if i == 0 else [], None, bot_xlabel, 7,
                   bot_ylabel if i == 0 else None)
    for pts, (col, mk) in zip(bot_series[i], series_style):
        xs, ys = to_xy(pts)
        p.scatter(xs, ys, marker=mk, size=7, line_color=col, fill_color=None, line_width=1.2)
    xs, ys = to_xy(dashed_sigma0)
    p.line(xs, ys, line_color=BLACK, line_width=1.3, line_dash="5 3")
    xs, ys = to_xy(solid_sets[i])
    p.line(xs, ys, line_color=BLACK, line_width=1.3)
    lx0, lx1 = legend_line_x[i]
    p.line([lx0, lx1], [10 ** -0.42, 10 ** -0.42], line_color=BLACK, line_width=1.6)
    put(p, legend_text_x[i], 10 ** -0.55, sigma("tot", "= " + sigma_tot[i], 32))
    sx, sy = sig0_pos[i]
    put(p, sx, 10 ** sy, sigma("tot", "= 0", 32))
    arrow(p, *bot_arrows[i])
    put(p, 0.05, 10 ** -0.55, [(bot_tags[i], 15, SERIF, "normal", 0, 0)])
    bots.append(p)

layout = column(row(*tops), row(*bots))
open("out.html", "w").write(file_html(layout, INLINE, "plot"))
